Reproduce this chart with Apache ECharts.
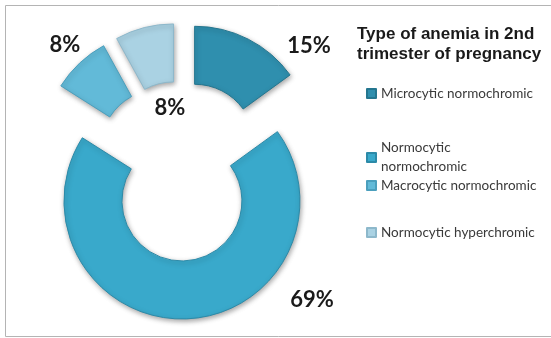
<!DOCTYPE html>
<html>
<head>
<meta charset="utf-8">
<script src="https://cdn.jsdelivr.net/npm/echarts@6/dist/echarts.min.js"></script>
<style>
    html, body { margin: 0; padding: 0; background: #fff; }
    #chart { width: 551px; height: 338px; }
</style>
</head>
<body>
<div id="chart"></div>
<script>
let categories = ['Microcytic normochromic', 'Normocytic normochromic', 'Macrocytic normochromic', 'Normocytic hyperchromic']
let percents = [15, 69, 8, 8]
let colors = ['#2f8fae', '#39a9cb', '#62bad8', '#aad2e3']
let edgeColors = ['#24768f', '#2c8aa8', '#4b9fbd', '#8db8cb']

// where the % labels sit (excel put them a bit oddly)
let labelAt = [[309, 46], [312, 300], [65, 45], [170, 108]]
// legend rows, top of each entry
let legendTop = [84, 129, 176, 223]

let myChart = echarts.init(document.getElementById('chart'))

let legends = categories.map((name, i) => ({
    orient: 'vertical',
    left: 366,
    top: legendTop[i],
    padding: 0,
    data: [{name: name, icon: 'rect'}],
    itemWidth: 9,
    itemHeight: 9,
    selectedMode: false,
    formatter: n => n === 'Normocytic normochromic' ? 'Normocytic\nnormochromic' : n,
    textStyle: {
        fontFamily: 'Lato',
        fontSize: 13.5,
        color: '#3a3a3a',
        lineHeight: 19,
        padding: i === 1 ? [19, 0, 0, 0] : 0
    }
}))

// percentage labels, text comes from the data
let labels = percents.map((v, i) => ({
    type: 'text',
    silent: true,
    x: labelAt[i][0],
    y: labelAt[i][1],
    style: {
        text: v + '%',
        align: 'center',
        verticalAlign: 'middle',
        fontFamily: 'Lato',
        fontWeight: 'bold',
        fontSize: 22,
        fill: '#1a1a1a'
    }
}))

let option = {
    backgroundColor: '#fff',
    animation: false,
    title: {
        text: 'Type of anemia in 2nd\ntrimester of pregnancy',
        left: 352,
        top: 19,
        textStyle: {
            fontFamily: 'Liberation Sans',
            fontSize: 17,
            fontWeight: 'bold',
            color: '#1a1a1a',
            lineHeight: 20
        }
    },
    legend: legends,
    graphic: [{
        type: 'rect',
        silent: true,
        shape: {x: 5.5, y: 5.5, width: 560, height: 331},
        style: {fill: 'none', stroke: '#b4b4b4', lineWidth: 1}
    }].concat(labels),
    series: [{
        type: 'pie',
        center: [181, 171],
        radius: [60, 118],
        startAngle: 90,
        clockwise: true,
        selectedMode: 'multiple',
        selectedOffset: 30,
        label: {show: false},
        labelLine: {show: false},
        emphasis: {disabled: true},
        data: categories.map((name, i) => ({
            name: name,
            value: percents[i],
            selected: true,
            itemStyle: {
                color: colors[i],
                borderColor: edgeColors[i],
                borderWidth: 1,
                shadowBlur: 5,
                shadowColor: 'rgba(0,0,0,0.35)',
                shadowOffsetX: 1,
                shadowOffsetY: 2
            }
        }))
    }]
}

myChart.setOption(option)
</script>
</body>
</html>
